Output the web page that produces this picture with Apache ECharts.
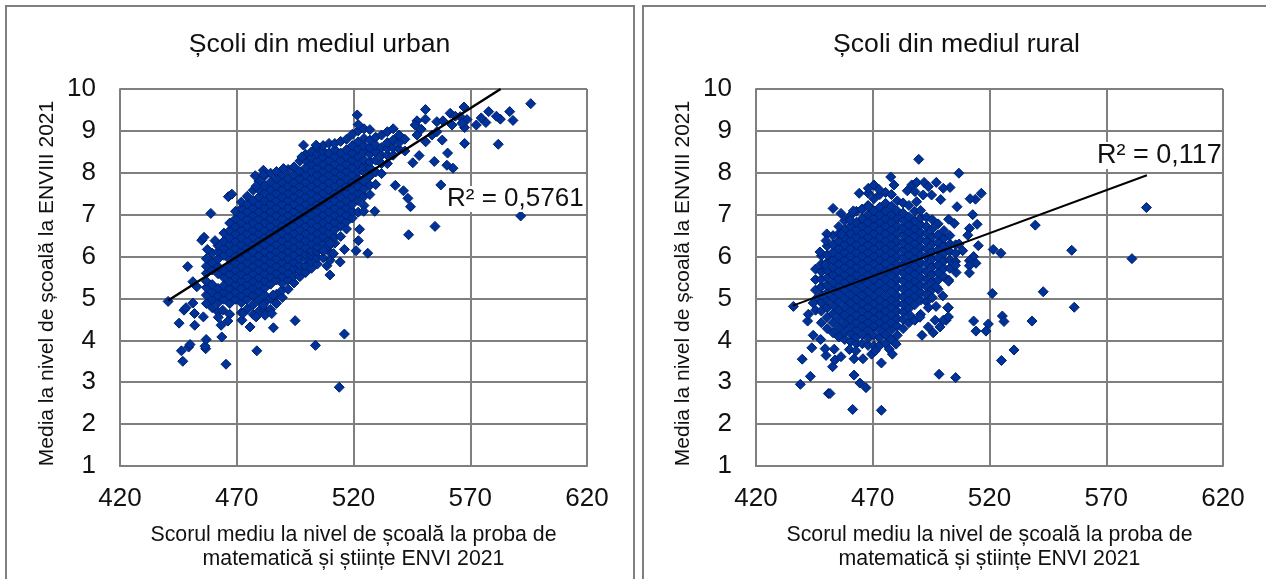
<!DOCTYPE html>
<html><head><meta charset="utf-8">
<style>html,body{margin:0;padding:0;background:#fff}#c{width:1266px;height:579px}</style>
<script src="https://cdn.jsdelivr.net/npm/echarts@6/dist/echarts.min.js"></script>
</head><body><div id="c"></div>
<script>
const xTicks=[420,470,520,570,620];
const chartTitles=["Școli din mediul urban","Școli din mediul rural"];
const xName="Scorul mediu la nivel de școală la proba de\nmatematică și științe ENVI 2021";
const yName="Media la nivel de școală la ENVIII 2021";
const r2Labels=["R² = 0,5761","R² = 0,117"];
const urbanTrend=[[440.6,4.95],[583,10]];
const ruralTrend=[[435.8,4.83],[587.4,7.94]];
// dense part of each cloud, read column by column: [x, y, y, ...]
const urbanColumns=[
[457,4.88,5.08,5.26,5.41,5.6,5.77,5.95],
[459.5,4.78,4.97,5.15,5.33,5.68,5.86,6.08],
[462,4.68,4.9,5.06,5.24,5.59,5.76,5.94,6.12,6.26],
[464.5,4.98,5.15,5.31,5.5,5.67,6.03,6.2,6.37,6.56],
[467,4.62,4.88,5.06,5.24,5.4,5.58,5.76,5.93,6.1,6.28,6.45,6.62,6.8],
[469.5,4.98,5.15,5.33,5.49,5.67,5.85,6.01,6.2,6.36,6.54,6.72,6.9,7.08],
[472,4.66,4.9,5.06,5.24,5.42,5.58,5.76,5.94,6.11,6.28,6.45,6.63,6.8,6.98,7.15,7.3],
[474.5,4.75,4.98,5.15,5.33,5.5,5.67,5.85,6.03,6.2,6.37,6.55,6.72,6.89,7.07,7.25,7.44],
[477,4.62,4.85,5.07,5.24,5.41,5.59,5.76,5.93,6.11,6.28,6.46,6.63,6.8,6.98,7.16,7.34,7.58],
[479.5,4.7,4.96,5.16,5.33,5.5,5.68,5.85,6.02,6.2,6.37,6.55,6.72,6.9,7.07,7.25,7.42,7.6,7.8],
[482,4.72,4.9,5.08,5.25,5.42,5.59,5.76,5.94,6.11,6.29,6.46,6.63,6.81,6.98,7.16,7.33,7.51,7.7,7.93],
[484.5,4.74,5,5.34,5.51,5.68,5.85,6.03,6.2,6.38,6.55,6.72,6.9,7.07,7.25,7.42,7.6,7.78,7.99],
[487,4.88,5.1,5.44,5.6,5.77,5.94,6.12,6.29,6.46,6.64,6.81,6.98,7.16,7.33,7.51,7.68,7.86,8.03],
[489.5,5.02,5.2,5.36,5.52,5.69,5.86,6.03,6.2,6.38,6.55,6.73,6.9,7.07,7.25,7.42,7.6,7.77,7.95],
[492,5.22,5.44,5.6,5.77,5.94,6.12,6.29,6.46,6.64,6.81,6.99,7.16,7.34,7.51,7.68,7.86,8.08],
[494.5,5.37,5.53,5.7,5.86,6.03,6.21,6.38,6.55,6.73,6.9,7.07,7.25,7.42,7.6,7.77,7.95,8.14],
[497,5.52,5.66,5.8,5.95,6.12,6.29,6.46,6.64,6.81,6.99,7.16,7.34,7.51,7.68,7.86,8.03,8.28],
[499.5,5.62,5.78,5.94,6.05,6.21,6.38,6.55,6.73,6.9,7.07,7.25,7.42,7.6,7.77,7.95,8.12,8.3,8.44],
[502,5.72,5.87,6.03,6.14,6.3,6.47,6.64,6.81,6.99,7.16,7.33,7.51,7.68,7.86,8.03,8.2,8.36,8.5],
[504.5,5.82,5.98,6.12,6.23,6.39,6.56,6.73,6.9,7.07,7.25,7.42,7.6,7.77,7.95,8.12,8.28,8.45,8.6],
[507,5.97,6.14,6.3,6.47,6.64,6.81,6.99,7.16,7.33,7.51,7.68,7.86,8.03,8.2,8.38,8.52,8.65],
[509.5,6.12,6.25,6.39,6.56,6.73,6.9,7.07,7.25,7.42,7.6,7.77,7.95,8.12,8.3,8.47,8.7],
[512,6.32,6.47,6.64,6.81,6.98,7.16,7.33,7.51,7.68,7.86,8.03,8.2,8.38,8.55,8.7],
[514.5,6.48,6.73,6.9,7.07,7.25,7.42,7.6,7.77,7.95,8.12,8.29,8.47,8.75],
[517,6.66,6.83,6.99,7.16,7.33,7.51,7.68,7.85,8.03,8.2,8.38,8.55,8.8],
[519.5,6.92,7.08,7.25,7.42,7.6,7.77,7.95,8.12,8.3,8.47,8.65,8.92],
[522,7.06,7.34,7.51,7.68,7.86,8.03,8.21,8.38,8.56,8.74,9],
[524.5,7.22,7.44,7.62,7.8,8.02,8.15,8.3,8.5,8.65,8.82,9.05],
[527,7.48,7.7,7.92,8.12,8.26,8.44,8.6,8.78,9.03],
[529.5,7.72,8.02,8.3,8.5,8.66,8.85],
[532,7.98,8.22,8.42,8.6,8.9],
[534.5,8.22,8.42,8.58,8.72,8.98],
[537,8.42,8.6,8.78,9.05],
[539.5,8.56,8.72,8.9],
[542,8.52,8.8]];
const urbanExtra=[[595.9,9.65],[586.9,9.46],[588.3,9.25],[582,8.68],[582.9,9.28],[581.2,9.35],[577.9,9.46],[576.7,9.2],[574.7,9.31],[572.6,9.14],[567.6,8.7],[567.3,9.57],[568.6,9.27],[567.6,9.08],[565.7,9.34],[562.2,9.14],[561.4,9.42],[563.6,9.35],[566.4,9.18],[558,8.78],[560.3,8.47],[562.6,8.11],[560,8.18],[554.6,8.27],[557.4,7.71],[548.1,8.41],[545.4,8.24],[550.8,9.51],[550.8,9.28],[547.2,9.24],[546.4,9.14],[549,9.04],[547.2,8.9],[550.9,8.74],[553.6,8.9],[555.7,8.98],[555.7,9.22],[558.3,9.24],[537.9,7.7],[541.4,7.57],[543.3,7.39],[544.4,7.19],[554.9,6.72],[543.6,6.52],[591.6,6.97],[529.1,7.08],[524.4,7.08],[522.6,6.65],[522.1,6.38],[521.1,6.14],[526.1,6.08],[516.1,6.17],[514.3,5.87],[509.9,5.56],[508.6,5.78],[510,5.91],[511.4,6.07],[510,6.31],[507.2,6.14],[516.1,4.15],[513.9,2.88],[521.6,9.38],[522,9.15],[440.6,4.93],[447.4,4.72],[448.3,4.78],[451.9,4.64],[455.7,4.56],[445.3,4.41],[452,4.36],[451.2,4.89],[446.3,3.75],[446.9,3.5],[449.4,3.84],[450,3.9],[456.7,3.8],[456.4,3.86],[456.9,4.02],[463.6,4.08],[463.3,4.36],[466.2,4.46],[465.4,3.43],[462.1,4.55],[472.2,4.48],[472.6,4.64],[475.7,4.32],[478.6,3.75],[485.7,4.3],[495,4.47],[503.7,3.88],[478.3,4.56],[482.1,4.6],[485,4.64],[485.6,5.08],[481.4,4.84],[464,4.72],[449,5.76],[455,6.39],[456,6.46],[460.7,6.38],[457.4,6.17],[458.9,7.03],[466.4,7.43],[467.9,7.49],[477.9,7.93],[481.4,8.06],[481.4,7.95],[478.3,7.68],[490,8.1],[498.6,8.66],[497.9,8.38],[504,8.66],[452.9,5.28],[451.2,5.4]];
const ruralColumns=[
[445.5,4.72,4.98,5.2,5.45,5.7],
[448,4.42,4.7,4.9,5.08,5.28,5.46,5.64,5.82,6.02],
[450.5,4.28,4.55,4.78,4.96,5.14,5.32,5.5,5.68,5.86,6.04,6.25],
[453,4.18,4.42,4.64,4.84,5.02,5.2,5.38,5.56,5.74,5.92,6.1,6.28,6.5],
[455.5,4.08,4.3,4.52,4.72,4.92,5.11,5.29,5.47,5.65,5.83,6.01,6.19,6.37,6.55,6.72],
[458,4.02,4.2,4.4,4.6,4.8,5,5.2,5.38,5.56,5.74,5.92,6.1,6.28,6.46,6.64,6.86],
[460.5,3.97,4.15,4.32,4.5,4.7,4.89,5.09,5.29,5.47,5.65,5.83,6.01,6.19,6.37,6.55,6.73,6.98],
[463,3.92,4.08,4.25,4.42,4.6,4.79,4.98,5.18,5.38,5.56,5.74,5.92,6.1,6.28,6.46,6.64,6.82,7.08],
[465.5,3.92,4.14,4.34,4.52,4.7,4.88,5.07,5.27,5.47,5.65,5.83,6.01,6.19,6.37,6.55,6.73,6.91,7.13],
[468,3.88,4.06,4.25,4.43,4.61,4.79,4.97,5.17,5.36,5.56,5.74,5.92,6.1,6.28,6.46,6.64,6.82,7,7.22],
[470.5,3.87,4.12,4.34,4.52,4.7,4.88,5.06,5.26,5.45,5.65,5.83,6.01,6.19,6.37,6.55,6.73,6.91,7.09,7.38],
[473,3.88,4.06,4.25,4.43,4.61,4.79,4.97,5.17,5.36,5.56,5.74,5.92,6.1,6.28,6.46,6.64,6.82,7,7.18,7.48],
[475.5,3.92,4.14,4.34,4.52,4.7,4.88,5.06,5.26,5.45,5.65,5.83,6.01,6.19,6.37,6.55,6.73,6.91,7.09,7.27,7.53],
[478,4.02,4.25,4.43,4.61,4.79,4.97,5.17,5.36,5.56,5.74,5.92,6.1,6.28,6.46,6.64,6.82,7,7.2,7.48],
[480.5,4.12,4.34,4.52,4.7,4.88,5.06,5.26,5.45,5.65,5.83,6.01,6.19,6.37,6.55,6.73,6.91,7.09,7.33],
[483,4.28,4.5,4.68,4.86,5.04,5.23,5.42,5.6,5.78,5.96,6.14,6.32,6.5,6.68,6.86,7.04,7.28],
[485.5,4.42,4.76,4.96,5.14,5.32,5.5,5.68,5.86,6.04,6.22,6.4,6.58,6.76,6.94,7.22],
[488,4.48,4.85,5.05,5.23,5.41,5.59,5.77,5.95,6.13,6.31,6.49,6.67,6.85,7.08],
[490.5,4.62,4.96,5.14,5.32,5.5,5.68,5.86,6.04,6.22,6.4,6.58,6.76,6.92,7.1],
[493,4.92,5.1,5.28,5.46,5.64,5.82,6,6.18,6.36,6.54,6.72,6.94],
[495.5,5.02,5.22,5.4,5.58,5.76,5.94,6.12,6.3,6.48,6.66,6.88],
[498,5.22,5.44,5.62,5.8,5.98,6.16,6.34,6.52,6.78],
[500.5,5.52,5.72,5.9,6.08,6.26,6.44,6.62],
[503,5.72,5.92,6.12,6.3,6.5],
[505.5,5.88,6.08,6.28]];
const ruralExtra=[[587.2,7.17],[581,5.95],[555.2,6.15],[556.3,4.79],[543,5.16],[539.6,6.75],[538.2,4.46],[530.5,3.77],[525.1,3.52],[525.5,4.58],[526.2,4.45],[521.2,5.12],[521.6,6.17],[524.9,6.08],[519.5,4.39],[518.5,4.22],[514.2,4.22],[513.2,4.46],[505.5,3.11],[506.9,7.99],[503.1,7.65],[516.5,7.51],[514,7.37],[511.7,7.38],[506.1,7.19],[512.8,7],[514.7,6.77],[511.4,6.67],[510.7,6.51],[504.9,6.79],[502.5,6.89],[515.2,6.26],[508.5,6.14],[507,6.3],[513.2,6],[511.4,5.9],[514.2,5.84],[511.4,5.78],[505.7,5.62],[511.4,5.61],[502.5,5.44],[505.4,5.79],[502.4,4.78],[502.1,4.55],[501.4,4.48],[436,4.81],[442.1,4.46],[442.4,4.62],[444.5,4.89],[444.5,4.12],[447.7,4.02],[443.9,3.82],[439.8,3.55],[443.3,3.14],[439,2.95],[451,2.73],[451.7,2.73],[461.4,2.35],[473.7,2.33],[462,3.17],[464.5,2.98],[467.1,2.87],[473.7,3.46],[452.8,3.37],[453.8,3.53],[450,3.64],[449.6,3.8],[453.5,3.79],[456.4,3.61],[460,3.78],[462,3.56],[462.8,3.75],[465.8,3.56],[469.5,3.67],[471.1,3.75],[477.1,3.79],[478.4,3.67],[480,3.91],[498.4,3.19],[491.1,4.12],[495.9,4.18],[493.8,4.32],[490.2,4.55],[485.9,4.6],[496.7,4.48],[498.8,4.32],[500.2,4.48],[502.4,4.56],[502.1,4.78],[497.1,4.81],[493.8,4.78],[500,5.06],[502.5,5.41],[497.1,5.28],[489.7,8.32],[453,7.15],[456.4,7.03],[464.2,7.51],[468.1,7.51],[468.1,7.63],[470.5,7.71],[472.7,7.6],[477.7,7.9],[479.1,7.71],[484.8,7.57],[486.7,7.71],[488.8,7.77],[492,7.77],[493.8,7.67],[497.2,7.77],[491.6,7.47],[488.1,7.55],[488.8,7.31],[495.2,7.47],[500.2,7.63],[499.1,7.36],[461.7,7.09],[460.3,6.87],[465.3,7.13],[468.1,7.2],[456.7,6.53],[450.3,6.54],[450,6.38],[447.4,6.11],[449.6,5.8]];

const flatten=cols=>cols.flatMap(c=>c.slice(1).map(y=>[c[0],y]));
const urbanPoints=flatten(urbanColumns).concat(urbanExtra);
const ruralPoints=flatten(ruralColumns).concat(ruralExtra);

const gridCol='#7f7f7f', font='"Liberation Sans",Arial,sans-serif', txt='#111';
const mkX=i=>({gridIndex:i,type:'value',min:420,max:620,
  name:xName,nameLocation:'middle',nameGap:57,
  nameTextStyle:{fontFamily:font,fontSize:21.3,color:txt,lineHeight:24},
  axisLine:{show:true,onZero:false,lineStyle:{color:gridCol,width:2}},
  axisTick:{show:false,customValues:xTicks},
  axisLabel:{customValues:xTicks,fontFamily:font,fontSize:26,color:txt,margin:20,showMinLabel:true,showMaxLabel:true},
  splitLine:{show:true,lineStyle:{color:gridCol,width:2}}});
const mkY=i=>({gridIndex:i,type:'value',min:1,max:10,interval:1,
  name:yName,nameLocation:'middle',nameGap:62,nameRotate:90,
  nameTextStyle:{fontFamily:font,fontSize:21,color:txt,padding:[0,12,0,0]},
  axisLine:{show:true,onZero:false,lineStyle:{color:gridCol,width:2}},
  axisTick:{show:false},
  axisLabel:{fontFamily:font,fontSize:26,color:txt,margin:24},
  splitLine:{show:true,lineStyle:{color:gridCol,width:2}}});
const mkScatter=(i,d)=>({type:'scatter',xAxisIndex:i,yAxisIndex:i,data:d,symbol:'diamond',symbolSize:10,
  itemStyle:{color:'#003399',borderColor:'#001f6e',borderWidth:1,opacity:1},silent:true,animation:false,z:3});
const mkTrend=(i,d,w)=>({type:'line',xAxisIndex:i,yAxisIndex:i,data:d,showSymbol:false,symbol:'none',clip:true,
  lineStyle:{color:'#000',width:w},silent:true,animation:false,z:4});

const chart=echarts.init(document.getElementById('c'),null,{renderer:'canvas'});
chart.setOption({
  backgroundColor:'#fff',animation:false,
  title:[
   {text:chartTitles[0],left:314.5,top:26,textAlign:'center',textStyle:{fontFamily:font,fontSize:26.6,fontWeight:'normal',color:txt}},
   {text:chartTitles[1],left:951.5,top:26,textAlign:'center',textStyle:{fontFamily:font,fontSize:26.6,fontWeight:'normal',color:txt}}],
  grid:[{left:120,top:89,width:467,height:377},{left:756,top:89,width:467,height:377}],
  xAxis:[mkX(0),mkX(1)],yAxis:[mkY(0),mkY(1)],
  series:[mkScatter(0,urbanPoints),mkTrend(0,urbanTrend,2.5),mkScatter(1,ruralPoints),mkTrend(1,ruralTrend,2)],
  graphic:[
   {type:'rect',shape:{x:6,y:6,width:628,height:620},style:{fill:'none',stroke:gridCol,lineWidth:2},silent:true,z:0},
   {type:'rect',shape:{x:643,y:6,width:700,height:620},style:{fill:'none',stroke:gridCol,lineWidth:2},silent:true,z:0},
   {type:'text',x:447,y:186,z:10,silent:true,style:{text:r2Labels[0],fontFamily:font,fontSize:26,fill:txt,backgroundColor:'#fff'}},
   {type:'text',x:1097,y:142,z:10,silent:true,style:{text:r2Labels[1],fontFamily:font,fontSize:27,fill:txt,backgroundColor:'#fff'}}
  ]
});
</script></body></html>
